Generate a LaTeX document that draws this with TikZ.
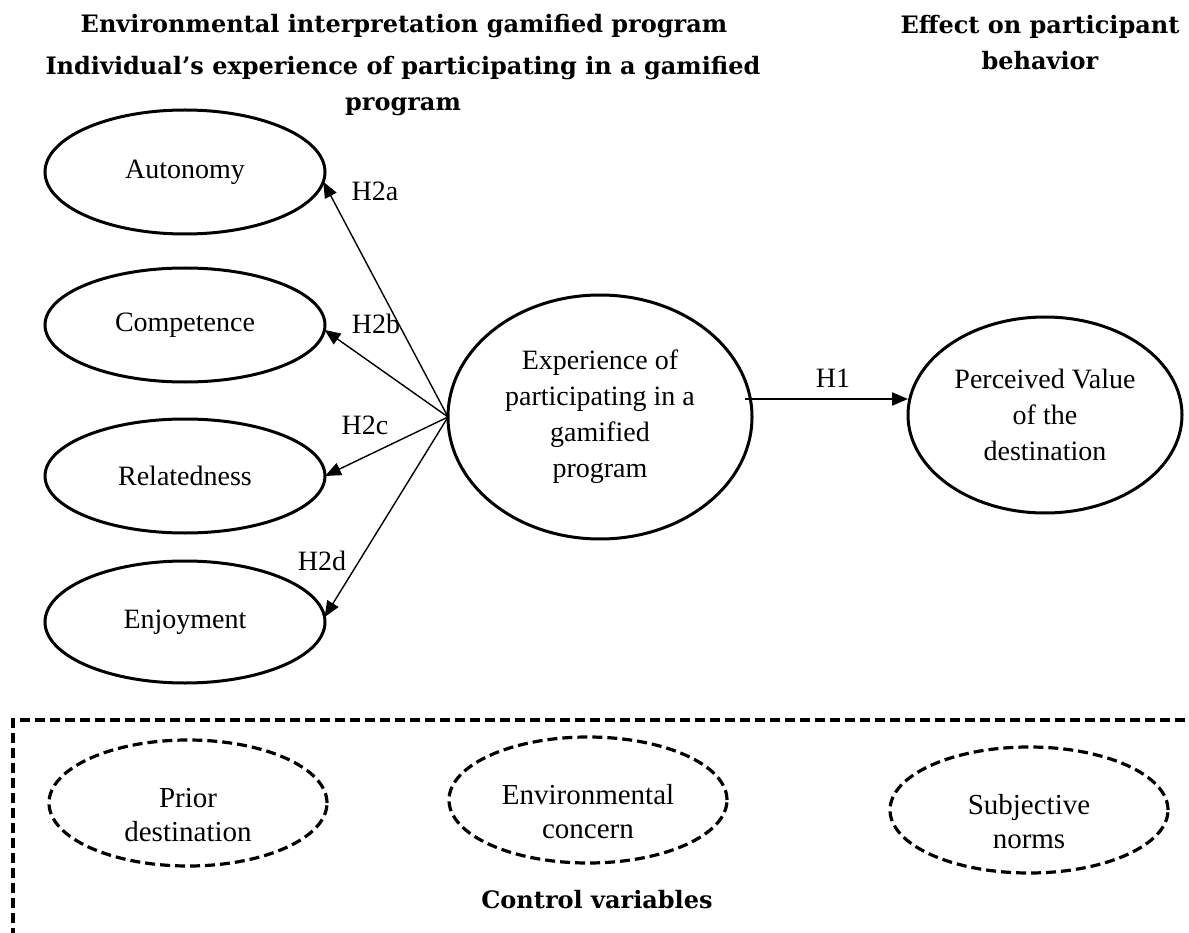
\documentclass[tikz,border=0pt]{standalone}
\usepackage{fontspec}
\setmainfont{Liberation Serif}
\newfontfamily\headfont{DejaVu Serif}
\usetikzlibrary{arrows.meta,shapes.geometric}

\begin{document}
\begin{tikzpicture}[x=1pt,y=-1pt,
  every node/.style={inner sep=0pt, outer sep=0pt},
  txt/.style={font=\fontsize{28}{36}\selectfont, align=center},
  head/.style={font=\headfont\bfseries\fontsize{24}{36}\selectfont, align=center},
  latent/.style={ellipse, draw, line width=3pt, txt},
  ctrl/.style={ellipse, draw, line width=3.2pt, dash pattern=on 10pt off 5pt,
    font=\fontsize{29}{34}\selectfont, align=center,
    minimum width=278pt, minimum height=126pt},
  link/.style={line width=1.4pt, -{Triangle[length=16pt,width=13pt]}},
  hlab/.style={font=\fontsize{28}{34}\selectfont}
]
\path[use as bounding box] (0,0) rectangle (1189,933);

% headings
\node[head, anchor=base] (t1) at (404,33) {Environmental interpretation gamified program};
\node[head, anchor=north] (t2) at (403,56) {Individual’s experience of participating in a gamified\\program};
\node[head, anchor=north] (t3) at (1040,15) {Effect on participant\\behavior};

% dimensions of the gamified experience
\node[latent, minimum width=280pt, minimum height=124pt] (aut) at (185,172) {Autonomy};
\node[latent, minimum width=280pt, minimum height=114pt] (com) at (185,325) {Competence};
\node[latent, minimum width=280pt, minimum height=114pt] (rel) at (185,476) {Relatedness};
\node[latent, minimum width=280pt, minimum height=122pt] (enj) at (185,622) {Enjoyment};

% central construct and outcome
\node[latent, minimum width=304pt, minimum height=244pt] (exp) at (600,417)
  {Experience of\\participating in a\\gamified\\program};
\node[latent, minimum width=274pt, minimum height=196pt] (pv) at (1045,415)
  {Perceived Value\\of the\\destination};

% hypotheses H2a--H2d
\coordinate (hub) at (exp.west);
\draw[link] (hub) -- (aut.-4);
\draw[link] (hub) -- (com.-2);
\draw[link] (hub) -- (rel.east);
\draw[link] (hub) -- (enj.2);
\node[hlab] (l2a) at (375,191) {H2a};
\node[hlab] (l2b) at (376,324) {H2b};
\node[hlab] (l2c) at (365,425) {H2c};
\node[hlab] (l2d) at (322,561) {H2d};

% hypothesis H1
\coordinate (h1s) at (745,399);
\draw[link, line width=2pt] (h1s) -- (h1s -| pv.west);
\node[hlab] (l1) at (833,378) {H1};

% control variables frame
\begin{scope}
  \clip (0,0) rectangle (1189,933);
  \draw[line width=3.5pt, dash pattern=on 10pt off 5pt] (1200,720) -- (13,720) -- (13,950);
\end{scope}
% the strut on the first line sets the text a little below the centre
\node[ctrl] (pri) at (188,803) {\rule{0pt}{44pt}Prior\\destination};
\node[ctrl] (env) at (588,800) {\rule{0pt}{44pt}Environmental\\concern};
\node[ctrl] (sub) at (1029,810) {\rule{0pt}{44pt}Subjective\\norms};
\node[head, anchor=base] (ctl) at (597,908) {Control variables};
\end{tikzpicture}
\end{document}
